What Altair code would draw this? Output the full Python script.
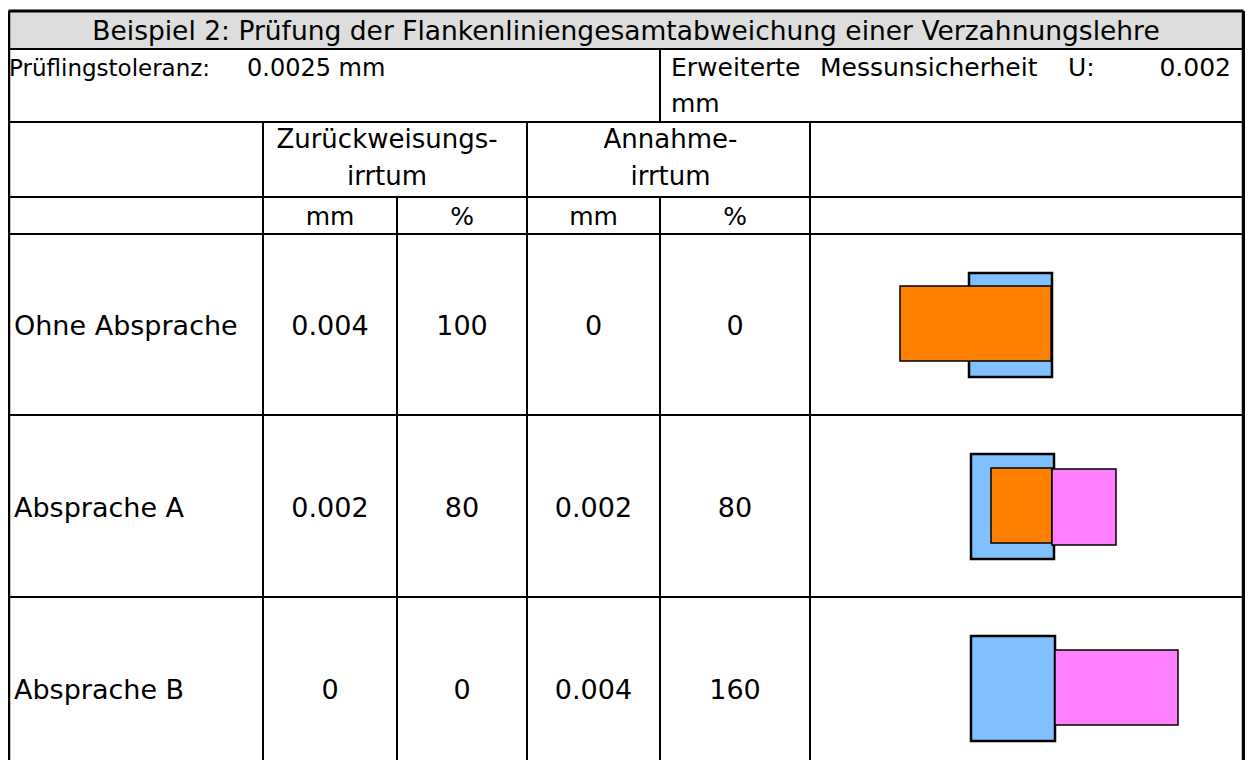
import altair as alt
import pandas as pd

# ---------------- content ----------------
title = "Beispiel 2: Prüfung der Flankenliniengesamtabweichung einer Verzahnungslehre"
tol_label = "Prüflingstoleranz:"
tol_value = "0.0025 mm"
unc_words = ["Erweiterte", "Messunsicherheit", "U:"]
unc_value = "0.002"
unc_unit = "mm"
group_heads = [["Zurückweisungs-", "irrtum"], ["Annahme-", "irrtum"]]
units = ["mm", "%", "mm", "%"]

row_labels = ["Ohne Absprache", "Absprache A", "Absprache B"]
reject_mm = ["0.004", "0.002", "0"]
reject_pct = ["100", "80", "0"]
accept_mm = ["0", "0.002", "0.004"]
accept_pct = ["0", "80", "160"]

# sketch rectangles (in sheet units)
shape_kind = ["Toleranz", "Zurückweisung", "Toleranz", "Zurückweisung", "Annahme", "Toleranz", "Annahme"]
shape_x0 = [969, 900, 971, 991, 1052, 971, 1055]
shape_x1 = [1052, 1051, 1054, 1052, 1116, 1055, 1178]
shape_y0 = [273, 286, 454, 468, 469, 636, 650]
shape_y1 = [377, 361, 559, 543, 545, 741, 725]

# ---------------- layout grid ----------------
col_edges = [8.5, 263, 397, 527, 660, 810, 1243.5]
row_edges = [11, 49, 122, 197, 234, 415, 597, 779]
unc_word_left = [671, 820, 1068]
head_shift = [-8, 2]

W, H = 1237, 752
xs = alt.Scale(domain=[8, 8 + W], nice=False, zero=False)
ys = alt.Scale(domain=[8, 8 + H], nice=False, zero=False, reverse=True)
FONT = "DejaVu Sans"

# grid lines
segs = []
L, R = col_edges[0], col_edges[-1]
for i, y in enumerate(row_edges[:-1]):
    segs.append(dict(x=L, x2=R, y=y, y2=y, w=3 if i == 0 else 2))
bottom = row_edges[-1]
segs.append(dict(x=L, x2=L, y=row_edges[0], y2=bottom, w=3.5))
segs.append(dict(x=R, x2=R, y=row_edges[0], y2=bottom, w=3.5))
segs.append(dict(x=col_edges[4], x2=col_edges[4], y=row_edges[1], y2=row_edges[2], w=2))
for c, top in [(1, 2), (2, 3), (3, 2), (4, 3), (5, 2)]:
    segs.append(dict(x=col_edges[c], x2=col_edges[c], y=row_edges[top], y2=bottom, w=2))
seg_df = pd.DataFrame(segs)

# texts
left_t, center_t, right_t = [], [], []
center_t.append(dict(t=title, x=(L + R) / 2, y=39.5, s=26.5))
left_t.append(dict(t=tol_label, x=9, y=76, s=23))
left_t.append(dict(t=tol_value, x=247, y=76, s=24))
for wd, xl in zip(unc_words, unc_word_left):
    left_t.append(dict(t=wd, x=xl, y=76, s=25))
left_t.append(dict(t=unc_unit, x=671, y=112, s=25))
right_t.append(dict(t=unc_value, x=1231, y=76, s=25))
for g, (a, b) in enumerate([(1, 3), (3, 5)]):
    cx = (col_edges[a] + col_edges[b]) / 2 + head_shift[g]
    center_t.append(dict(t=group_heads[g][0], x=cx, y=148, s=26))
    center_t.append(dict(t=group_heads[g][1], x=cx, y=185, s=26))
for j, u in enumerate(units):
    cx = (col_edges[j + 1] + col_edges[j + 2]) / 2
    center_t.append(dict(t=u, x=cx, y=225, s=25))
for k, lab in enumerate(row_labels):
    cy = (row_edges[4 + k] + row_edges[5 + k]) / 2 + 10.5
    left_t.append(dict(t=lab, x=14, y=cy, s=27))
    for j, vals in enumerate([reject_mm, reject_pct, accept_mm, accept_pct]):
        cx = (col_edges[j + 1] + col_edges[j + 2]) / 2
        center_t.append(dict(t=vals[k], x=cx, y=cy, s=27))

shape_df = pd.DataFrame(dict(kind=shape_kind, x0=shape_x0, x1=shape_x1, y0=shape_y0, y1=shape_y1))

color = alt.Color("kind:N", scale=alt.Scale(domain=["Toleranz", "Zurückweisung", "Annahme"],
                                            range=["#80C0FF", "#FF8000", "#FF80FF"]), legend=None)

band = alt.Chart(pd.DataFrame(dict(x=[L], x2=[R], y=[row_edges[0]], y2=[row_edges[1]]))).mark_rect(
    color="#DDDDDD").encode(
    x=alt.X("x:Q", scale=xs, axis=None), x2="x2:Q",
    y=alt.Y("y:Q", scale=ys, axis=None), y2="y2:Q")

shapes_tol = alt.Chart(shape_df).transform_filter(alt.datum.kind == "Toleranz").mark_rect(
    stroke="black", strokeWidth=2.5).encode(
    x=alt.X("x0:Q", scale=xs, axis=None), x2="x1:Q",
    y=alt.Y("y0:Q", scale=ys, axis=None), y2="y1:Q", color=color)
shapes_err = alt.Chart(shape_df).transform_filter(alt.datum.kind != "Toleranz").mark_rect(
    stroke="black", strokeWidth=1.5).encode(
    x=alt.X("x0:Q", scale=xs, axis=None), x2="x1:Q",
    y=alt.Y("y0:Q", scale=ys, axis=None), y2="y1:Q", color=color)

lines = alt.Chart(seg_df).mark_rule(color="black").encode(
    x=alt.X("x:Q", scale=xs, axis=None), x2="x2:Q",
    y=alt.Y("y:Q", scale=ys, axis=None), y2="y2:Q",
    strokeWidth=alt.StrokeWidth("w:Q", scale=None, legend=None))


def text_layer(rows, align):
    return alt.Chart(pd.DataFrame(rows)).mark_text(
        align=align, baseline="alphabetic", font=FONT, color="black").encode(
        x=alt.X("x:Q", scale=xs, axis=None), y=alt.Y("y:Q", scale=ys, axis=None),
        text="t:N", size=alt.Size("s:Q", scale=None, legend=None))


chart = alt.layer(
    band, shapes_tol, shapes_err, lines,
    text_layer(left_t, "left"), text_layer(center_t, "center"), text_layer(right_t, "right"),
).properties(
    width=W, height=H, padding=0, autosize=alt.AutoSizeParams(type="none")
).configure_view(stroke=None)

chart.save("out.html", embed_options={"renderer": "svg", "actions": False})
